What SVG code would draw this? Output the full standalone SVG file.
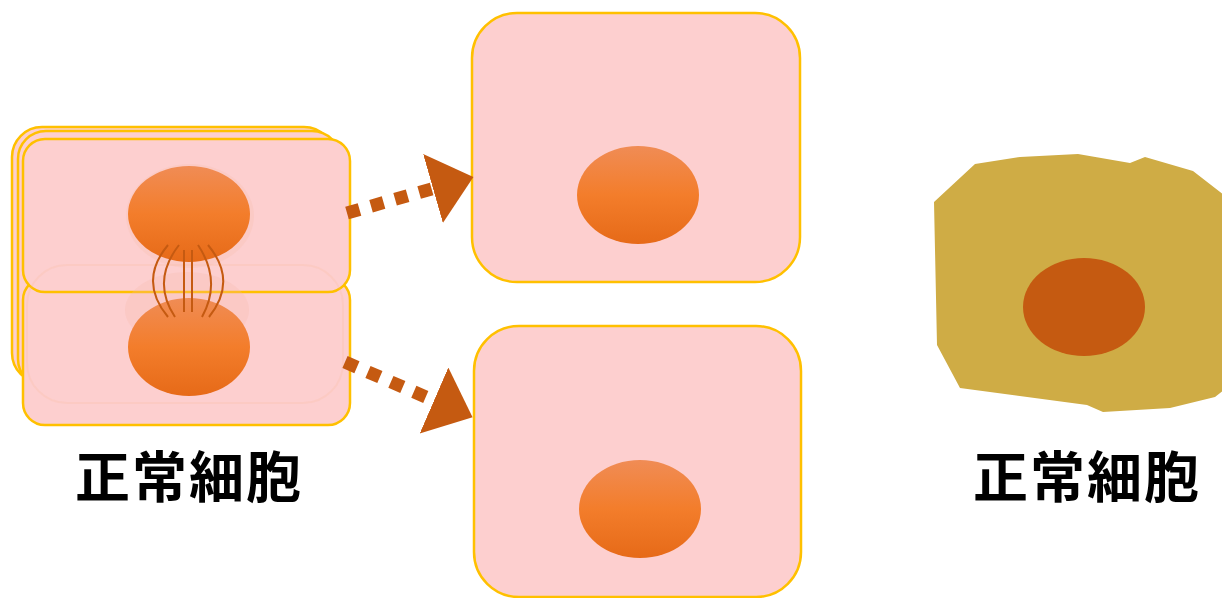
<svg xmlns="http://www.w3.org/2000/svg" width="1222" height="598" viewBox="0 0 1222 598">
  <defs>
    <linearGradient id="nucleusFill" x1="0" y1="0" x2="0" y2="1">
      <stop offset="0" stop-color="#f08c55"/>
      <stop offset="0.5" stop-color="#f37d2b"/>
      <stop offset="1" stop-color="#e66a18"/>
    </linearGradient>
    <marker id="bigHead" markerUnits="userSpaceOnUse" markerWidth="44" markerHeight="74" refX="0" refY="36" orient="auto">
      <path d="M0,0 L42,36 L0,72 Z" fill="#c55a11"/>
    </marker>
    <style>
      .cell { fill: #fdcfcf; stroke: #ffc000; stroke-width: 2.5; }
      .nucleus { fill: url(#nucleusFill); }
      .ghost { fill: none; stroke: #f8b890; stroke-width: 2; opacity: 0.18; }
      .spindle { fill: none; stroke: #c55a11; stroke-width: 2; }
      .flow { fill: none; stroke: #c55a11; stroke-width: 13; stroke-dasharray: 13 12; marker-end: url(#bigHead); }
      .label { font-family: "Noto Sans CJK JP", "Noto Sans CJK SC", sans-serif; font-weight: 700; font-size: 55px; fill: #000; text-anchor: middle; letter-spacing: 2px; }
    </style>
  </defs>

  <!-- dividing cell: stacked outlines, two daughter halves and spindle -->
  <g id="dividing-cell">
    <rect class="cell" x="12" y="127" width="322" height="256" rx="30"/>
    <rect class="cell" x="18" y="131" width="322" height="256" rx="28"/>
    <rect class="cell" x="23" y="278" width="327" height="147" rx="22"/>
    <rect class="cell" x="23" y="139" width="327" height="153" rx="22"/>
    <rect class="ghost" x="27" y="265" width="316" height="138" rx="40"/>
    <ellipse cx="190" cy="216" rx="64" ry="52" fill="#f7b8a0" opacity="0.2"/>
    <ellipse cx="189" cy="214" rx="61" ry="48" class="nucleus"/>
    <ellipse cx="187" cy="310" rx="62" ry="38" fill="#f8b8a8" opacity="0.25"/>
    <ellipse cx="189" cy="347" rx="61" ry="49" class="nucleus"/>
    <path class="spindle" d="M168,245 Q138,281 168,317"/>
    <path class="spindle" d="M179,245 Q151,281 175,317"/>
    <path class="spindle" d="M184,250 L184,312"/>
    <path class="spindle" d="M192,250 L192,312"/>
    <path class="spindle" d="M198,245 Q222,281 202,317"/>
    <path class="spindle" d="M208,245 Q238,281 209,317"/>
  </g>

  <!-- daughter cell, upper -->
  <g id="daughter-upper">
    <rect class="cell" x="472" y="13" width="328" height="269" rx="45"/>
    <ellipse cx="638" cy="195" rx="61" ry="49" class="nucleus"/>
  </g>

  <!-- daughter cell, lower -->
  <g id="daughter-lower">
    <rect class="cell" x="474" y="326" width="327" height="271" rx="45"/>
    <ellipse cx="640" cy="509" rx="61" ry="49" class="nucleus"/>
  </g>

  <!-- irregular cell -->
  <g id="irregular-cell">
    <polygon fill="#cfac45" points="934,202 975,164 1020,157 1078,154 1130,163 1145,157 1193,171 1224,195 1224,390 1215,397 1170,408 1103,412 1087,405 960,388 937,345"/>
    <ellipse cx="1084" cy="307" rx="61" ry="49" fill="#c55a11"/>
  </g>

  <!-- division arrows -->
  <g id="connectors">
    <path class="flow" d="M347,213 L433,188.5"/>
    <path class="flow" d="M345,362 L434,400.5"/>
  </g>

  <g id="labels">
    <text class="label" x="189" y="497">正常細胞</text>
    <text class="label" x="1087" y="497">正常細胞</text>
  </g>
</svg>
